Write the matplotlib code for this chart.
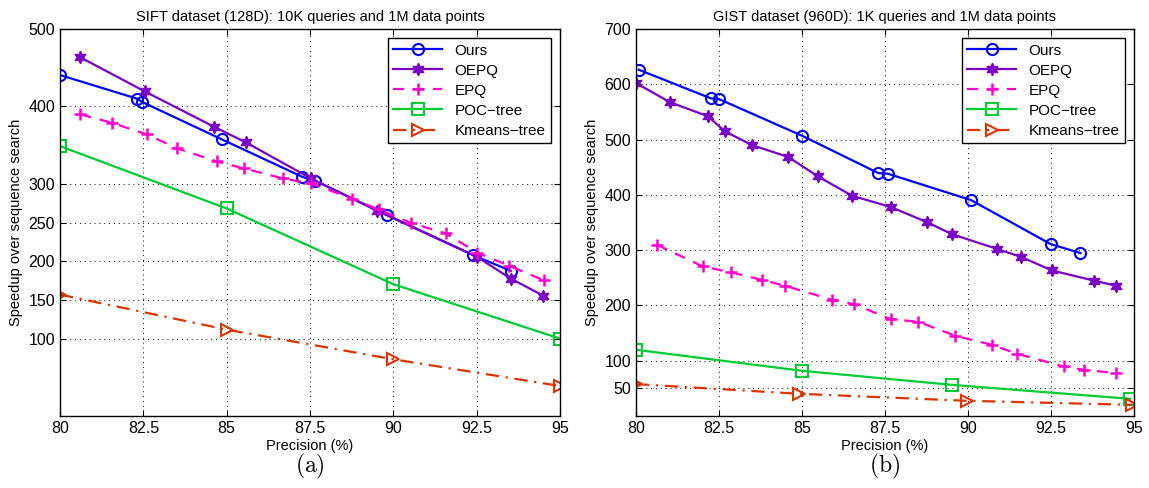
import numpy as np
import matplotlib
matplotlib.use('Agg')
import matplotlib.pyplot as plt

plt.rcParams['font.family'] = ['Liberation Sans', 'DejaVu Sans']
plt.rcParams['mathtext.fontset'] = 'cm'

# ---- SIFT (a) ----
sift_ours_x = [80.0, 82.31, 82.47, 84.86, 87.27, 87.65, 89.82, 92.40, 93.52]
sift_ours_y = [440.5, 410, 405.6, 357.3, 309, 303.9, 259.5, 207.8, 187.5]
sift_oepq_x = [80.61, 82.54, 84.62, 85.58, 87.53, 89.52, 92.51, 93.52, 94.49]
sift_oepq_y = [463.4, 419.4, 373.7, 353.4, 306.9, 265, 205.6, 177.6, 155.6]
sift_epq_x = [80.61, 81.55, 82.61, 83.50, 84.70, 85.53, 86.68, 87.53, 88.75,
              89.56, 90.52, 91.58, 92.51, 93.48, 94.51]
sift_epq_y = [389.7, 378.9, 363.8, 346.1, 328.9, 319.8, 306.9, 300.4, 281,
              266.8, 249.6, 235.8, 211.2, 194, 175.4]
sift_poc_x = [80, 85, 90, 95]
sift_poc_y = [348.7, 268.1, 170.3, 100]
sift_km_x = [80, 85, 90, 95]
sift_km_y = [156.9, 111.6, 73.3, 38.8]

# ---- GIST (b) ----
gist_ours_x = [80.08, 82.26, 82.50, 85.0, 87.30, 87.59, 90.09, 92.49, 93.39]
gist_ours_y = [626.4, 574.5, 573.3, 507, 439.4, 438.2, 390.6, 311, 294.7]
gist_oepq_x = [80.0, 81.01, 82.17, 82.68, 83.49, 84.59, 85.48, 86.51, 87.68,
               88.78, 89.51, 90.86, 91.61, 92.53, 93.81, 94.47]
gist_oepq_y = [602.3, 567.9, 542, 514.8, 490.1, 468.4, 433.4, 398.4, 377.9,
               350.2, 329.1, 302.5, 287.5, 263.3, 244.6, 235.6]
gist_epq_x = [80.63, 82.01, 82.87, 83.79, 84.49, 85.90, 86.56, 87.67, 88.51,
              89.62, 90.72, 91.49, 92.88, 93.49, 94.47]
gist_epq_y = [309.8, 270.6, 259.7, 246.4, 235.6, 210.3, 202.4, 175.3, 170.4,
              145.1, 128.8, 112.5, 89.6, 83.6, 77.6]
gist_poc_x = [80, 85, 89.51, 94.89]
gist_poc_y = [119.8, 81.8, 56.4, 31.1]
gist_km_x = [80, 84.92, 89.98, 94.94]
gist_km_y = [57.7, 40.2, 27.5, 20.3]

labels = ['Ours', 'OEPQ', 'EPQ', 'POC\u2212tree', 'Kmeans\u2212tree']
xticks = [80, 82.5, 85, 87.5, 90, 92.5, 95]
xticklabels = ['80', '82.5', '85', '87.5', '90', '92.5', '95']

c_ours = '#0000ff'
c_oepq = '#7a00c8'
c_epq = '#ff00cc'
c_poc = '#00cc33'
c_km = '#dd3300'
hexagram = (6, 1, 0)

fig = plt.figure(figsize=(11.49, 4.88), dpi=100)
ax1 = fig.add_axes([0.0522, 0.1475, 0.4352, 0.7931])
ax2 = fig.add_axes([0.5535, 0.1475, 0.4334, 0.7931])


def draw(ax, data, ylim, yticks, title, cap):
    (ox, oy), (px, py), (ex, ey), (gx, gy), (kx, ky) = data
    ax.plot(ox, oy, '-', color=c_ours, lw=1.6, marker='o', ms=8,
            mfc='none', mew=1.5, label=labels[0])
    ax.plot(px, py, '-', color=c_oepq, lw=1.6, marker=hexagram, ms=9,
            mfc=c_oepq, mew=1.0, label=labels[1])
    ax.plot(ex, ey, '--', color=c_epq, lw=1.6, marker='+', ms=9,
            mew=1.8, dashes=(5, 4), label=labels[2])
    ax.plot(gx, gy, '-', color=c_poc, lw=1.6, marker='s', ms=8,
            mfc='none', mew=1.5, label=labels[3])
    ax.plot(kx, ky, '-.', color=c_km, lw=1.6, marker='>', ms=9,
            mfc='none', mew=1.5, dashes=(6, 3, 1, 3), label=labels[4])
    ax.set_xlim(80, 95)
    ax.set_ylim(*ylim)
    ax.set_xticks(xticks)
    ax.set_xticklabels(xticklabels)
    ax.set_yticks(yticks)
    ax.tick_params(direction='in', top=True, right=True, labelsize=11.5,
                   length=4, width=0.8)
    ax.grid(True, linestyle=(0, (1, 4)), color='black', lw=0.7)
    for s in ax.spines.values():
        s.set_linewidth(1.0)
    ax.set_xlabel('Precision (%)', fontsize=10.5, labelpad=2)
    ax.set_ylabel('Speedup over sequence search', fontsize=10.5, labelpad=4)
    ax.set_title(title, fontsize=10.5, pad=6)
    leg = ax.legend(loc='upper right', fontsize=11, fancybox=False,
                    edgecolor='black', framealpha=1, handlelength=3.2,
                    borderpad=0.35, labelspacing=0.4, borderaxespad=0.6)
    leg.get_frame().set_linewidth(1.0)
    ax.text(0.5, -0.13, cap, transform=ax.transAxes, ha='center',
            va='center', fontsize=17)


draw(ax1, [(sift_ours_x, sift_ours_y), (sift_oepq_x, sift_oepq_y),
           (sift_epq_x, sift_epq_y), (sift_poc_x, sift_poc_y),
           (sift_km_x, sift_km_y)],
     (0, 500), [100, 150, 200, 250, 300, 400, 500],
     'SIFT dataset (128D): 10K queries and 1M data points', r'$\mathrm{(a)}$')
draw(ax2, [(gist_ours_x, gist_ours_y), (gist_oepq_x, gist_oepq_y),
           (gist_epq_x, gist_epq_y), (gist_poc_x, gist_poc_y),
           (gist_km_x, gist_km_y)],
     (0, 700), [50, 100, 200, 300, 400, 500, 600, 700],
     'GIST dataset (960D): 1K queries and 1M data points', r'$\mathrm{(b)}$')

fig.savefig('out.png', dpi=100)
